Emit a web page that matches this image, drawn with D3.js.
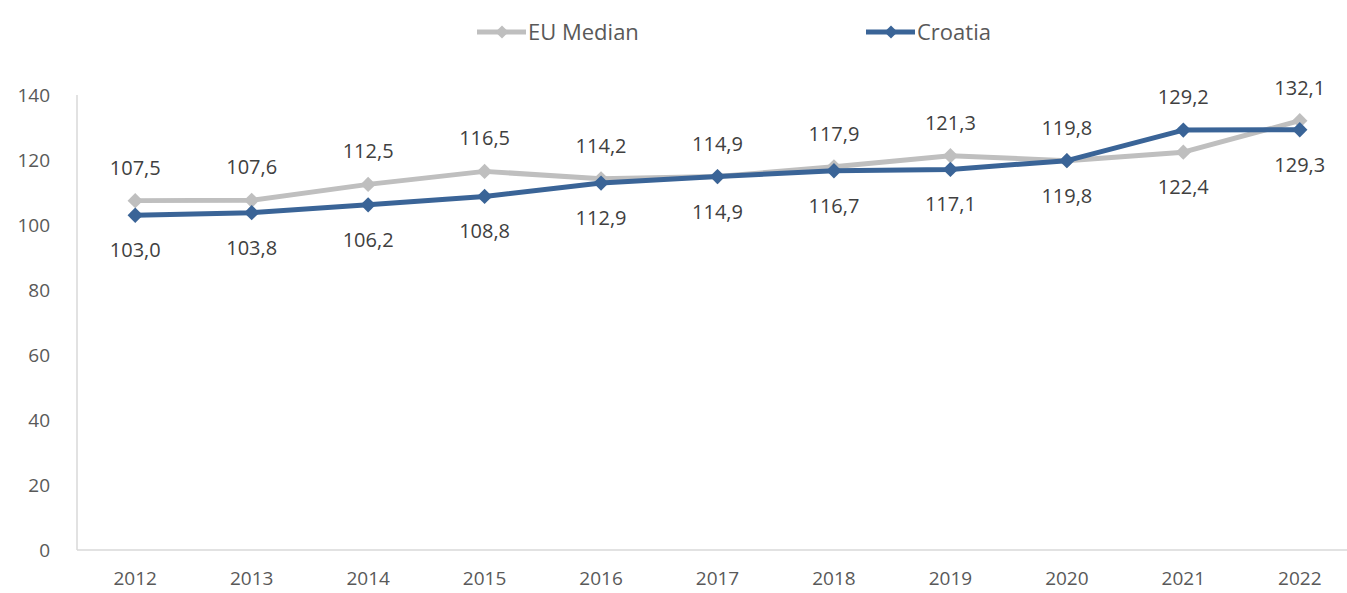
<!DOCTYPE html>
<html lang="en">
<head>
    <meta charset="UTF-8">
    <title>EU Median vs Croatia</title>
    <script src="https://d3js.org/d3.v7.min.js"></script>
    <style>
        body { margin: 0; background: #fff; }
        text { font-family: "Open Sans", sans-serif; fill: #595959; }
        .axis path, .axis line { stroke: #d9d9d9; stroke-width: 1.5px; }
        .axis text { font-size: 19px; fill: #595959; }
        .series { fill: none; stroke-width: 5px; stroke-linejoin: round; }
        .lbl { font-size: 20px; text-anchor: middle; fill: #404040; }
    </style>
</head>
<body>
    <svg width="1347" height="593"></svg>
    <script>
        // Data
        const years = ["2012", "2013", "2014", "2015", "2016", "2017", "2018", "2019", "2020", "2021", "2022"];
        const euMedian = [107.5, 107.6, 112.5, 116.5, 114.2, 114.9, 117.9, 121.3, 119.8, 122.4, 132.1];
        const croatia = [103.0, 103.8, 106.2, 108.8, 112.9, 114.9, 116.7, 117.1, 119.8, 129.2, 129.3];
        const yTicks = [0, 20, 40, 60, 80, 100, 120, 140];

        const grey = "#bfbfbf", blue = "#3a6497";

        const svg = d3.select("svg");
        const plotLeft = 77, plotRight = 1358, plotTop = 95, plotBottom = 550;

        const x = d3.scaleBand().domain(years).range([plotLeft, plotRight]);
        const y = d3.scaleLinear().domain([0, 140]).range([plotBottom, plotTop]);
        const cx = d => x(d) + x.bandwidth() / 2;

        // Axes
        svg.append("g")
            .attr("class", "axis")
            .attr("transform", "translate(0," + plotBottom + ")")
            .call(d3.axisBottom(x).tickSize(0).tickPadding(22))
            .call(g => g.select(".domain").attr("d", "M" + plotLeft + ",0H" + plotRight));

        svg.append("g")
            .attr("class", "axis")
            .attr("transform", "translate(" + plotLeft + ",0)")
            .call(d3.axisLeft(y).tickValues(yTicks).tickSize(0).tickPadding(27))
            .call(g => g.select(".domain").attr("d", "M0," + plotTop + "V" + plotBottom));

        const line = d3.line()
            .x((d, i) => cx(years[i]))
            .y(d => y(d));

        const diamond = d3.symbol().type(d3.symbolDiamond2).size(150);

        function drawSeries(vals, color) {
            svg.append("path")
                .datum(vals)
                .attr("class", "series")
                .attr("stroke", color)
                .attr("d", line);
            svg.append("g").selectAll("path")
                .data(vals)
                .join("path")
                .attr("d", diamond)
                .attr("fill", color)
                .attr("transform", (d, i) => "translate(" + cx(years[i]) + "," + y(d) + ")");
        }

        drawSeries(euMedian, grey);
        drawSeries(croatia, blue);

        // Data labels: higher series above, lower below
        const fmt = v => d3.format(".1f")(v).replace(".", ",");
        years.forEach((yr, i) => {
            const euTop = euMedian[i] >= croatia[i];
            const topVal = euTop ? euMedian[i] : croatia[i];
            const botVal = euTop ? croatia[i] : euMedian[i];
            svg.append("text").attr("class", "lbl")
                .attr("x", cx(yr)).attr("y", y(topVal) - 26)
                .text(fmt(topVal));
            svg.append("text").attr("class", "lbl")
                .attr("x", cx(yr)).attr("y", y(botVal) + 42)
                .text(fmt(botVal));
        });

        // Legend
        const legend = [
            { name: "EU Median", color: grey, x: 477 },
            { name: "Croatia", color: blue, x: 866 }
        ];
        legend.forEach(l => {
            const g = svg.append("g").attr("transform", "translate(" + l.x + ",32)");
            g.append("line").attr("x1", 0).attr("x2", 49).attr("y1", 0).attr("y2", 0)
                .attr("stroke", l.color).attr("stroke-width", 5);
            g.append("path").attr("d", d3.symbol().type(d3.symbolDiamond2).size(110))
                .attr("transform", "translate(25,0)").attr("fill", l.color);
            g.append("text").attr("x", 51).attr("y", 8)
                .style("font-size", "22px").text(l.name);
        });
    </script>
</body>
</html>
